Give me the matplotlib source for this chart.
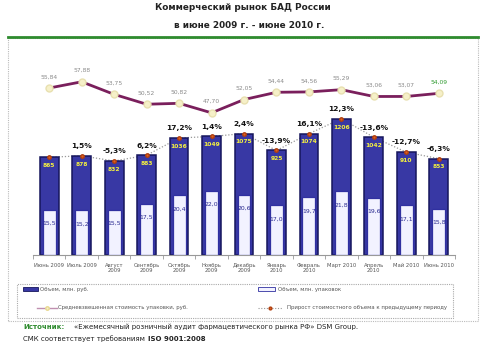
import numpy as np
import matplotlib
matplotlib.use("Agg")
import matplotlib.pyplot as plt
from matplotlib.patches import Rectangle
from matplotlib.lines import Line2D

# data
months = ["Июнь 2009", "Июль 2009", "Август\n2009", "Сентябрь\n2009", "Октябрь\n2009",
          "Ноябрь\n2009", "Декабрь\n2009", "Январь\n2010", "Февраль\n2010", "Март 2010",
          "Апрель\n2010", "Май 2010", "Июнь 2010"]
revenue = [865, 878, 832, 883, 1036, 1049, 1075, 925, 1074, 1206, 1042, 910, 853]
packages = [15.5, 15.2, 15.5, 17.5, 20.4, 22.0, 20.6, 17.0, 19.7, 21.8, 19.6, 17.1, 15.8]
price = [55.84, 57.88, 53.75, 50.52, 50.82, 47.70, 52.05, 54.44, 54.56, 55.29, 53.06, 53.07, 54.09]
growth = [None, 1.5, -5.3, 6.2, 17.2, 1.4, 2.4, -13.9, 16.1, 12.3, -13.6, -12.7, -6.3]

W, H = 490, 350
fig = plt.figure(figsize=(W / 100, H / 100), dpi=100)


def fx(px):
    return px / W


def fy(py):
    return 1 - py / H


# titles
fig.text(fx(243), fy(8), "Коммерческий рынок БАД России", ha="center", va="center",
         fontsize=6.4, fontweight="bold", color="#222222")
fig.text(fx(249), fy(25), "в июне 2009 г. - июне 2010 г.", ha="center", va="center",
         fontsize=6.4, fontweight="bold", color="#222222")

# green rule and dotted frame
fig.add_artist(Line2D([fx(8), fx(478)], [fy(37), fy(37)], color="#2e8b2e", lw=2))
fig.add_artist(Rectangle((fx(8), fy(321)), fx(470), (321 - 38) / H, fill=False,
                         ec="#bbbbbb", lw=0.8, ls=(0, (1, 1))))

x = np.arange(len(months))
ax = fig.add_axes([fx(33), fy(255), fx(422), 215 / H])
ax.set_xlim(-0.5, 12.5)
ax.set_ylim(0, 1903)

# revenue bars
ax.bar(x, revenue, width=0.58, color="#3838a4", edgecolor="#16165c", lw=1.1, zorder=2)
# packages bars (own scale)
axp = ax.twinx()
axp.set_ylim(0, 73.4)
axp.set_xlim(-0.5, 12.5)
axp.bar(x, packages, width=0.4, color="#f2f2ff", edgecolor="#3030a0", lw=0.9, zorder=3)
for xi, p in zip(x, packages):
    axp.annotate(f"{p:.1f}".replace(".", ","), (xi, p), xytext=(0, -10),
                 textcoords="offset points", ha="center", va="center",
                 fontsize=4.4, color="#2a2a90")
axp.axis("off")

for xi, r in zip(x, revenue):
    ax.annotate(str(r), (xi, r), xytext=(0, -6), textcoords="offset points",
                ha="center", va="center", fontsize=4.3, fontweight="bold", color="#f4f040",
                zorder=5)

# growth: dotted line through bar tops
ax.plot(x, revenue, ls=(0, (1, 1.5)), color="#999999", lw=0.9, zorder=1)
ax.plot(x, revenue, ls="none", marker="o", ms=2.5, mfc="#e06020", mec="#b04010", zorder=4)
for xi, r, g in zip(x, revenue, growth):
    if g is None:
        continue
    ax.annotate(f"{g:.1f}%".replace(".", ","), (xi, r), xytext=(0, 7),
                textcoords="offset points", ha="center", va="center",
                fontsize=5.4, fontweight="bold", color="#111111", zorder=5)

# average price line
axl = ax.twinx()
axl.set_ylim(1.09, 71.58)
axl.set_xlim(-0.5, 12.5)
axl.plot(x, price, color="#7a1f5c", lw=2.0, zorder=3)
axl.plot(x, price, ls="none", marker="o", ms=5, mfc="#f6f0c8", mec="#e8e0b0", zorder=4)
for i, (xi, p) in enumerate(zip(x, price)):
    col = "#2e9a2e" if i == len(price) - 1 else "#8a8a8a"
    axl.annotate(f"{p:.2f}".replace(".", ","), (xi, p), xytext=(0, 8),
                 textcoords="offset points", ha="center", va="center",
                 fontsize=4.3, color=col)
axl.axis("off")

# x axis
for s in ["top", "right", "left"]:
    ax.spines[s].set_visible(False)
ax.spines["bottom"].set_color("#999999")
ax.spines["bottom"].set_linewidth(0.8)
ax.set_yticks([])
ax.set_xticks(x)
ax.set_xticklabels(months, fontsize=3.8, color="#555555", linespacing=1.0)
ax.tick_params(axis="x", length=0, pad=6)
ax.set_xticks(np.arange(-0.5, 13, 1), minor=True)
ax.tick_params(axis="x", which="minor", length=3, color="#999999", width=0.6)

# legend box
fs_leg = 3.9
fig.add_artist(Rectangle((fx(17), fy(318)), fx(436), 34 / H, fill=False,
                         ec="#aaaaaa", lw=0.8, ls=(0, (1, 1))))
fig.add_artist(Rectangle((fx(23), fy(290.5)), fx(15), 4 / H, fc="#3838a4", ec="#16165c", lw=0.6))
fig.text(fx(40), fy(289), "Объем, млн. руб.", fontsize=fs_leg, color="#555555", va="center")
fig.add_artist(Rectangle((fx(258), fy(290.5)), fx(17), 4 / H, fc="#f2f2ff", ec="#3030a0", lw=0.6))
fig.text(fx(278), fy(289), "Объем, млн. упаковок", fontsize=fs_leg, color="#555555", va="center")
fig.add_artist(Line2D([fx(37), fx(57)], [fy(308), fy(308)], color="#c090b0", lw=1.0))
fig.add_artist(Line2D([fx(47)], [fy(308)], ls="none", marker="o", ms=2.5,
                      mfc="#f6f0c8", mec="#e8d890"))
fig.text(fx(58), fy(308), "Средневзвешенная стоимость упаковки, руб.", fontsize=fs_leg,
         color="#555555", va="center")
fig.add_artist(Line2D([fx(258), fx(283)], [fy(308), fy(308)], color="#999999", lw=0.8,
                      ls=(0, (1, 1.5))))
fig.add_artist(Line2D([fx(270)], [fy(308)], ls="none", marker="o", ms=2,
                      mfc="#e06020", mec="#b04010"))
fig.text(fx(287), fy(308), "Прирост стоимостного объема к предыдущему периоду", fontsize=fs_leg,
         color="#555555", va="center")

# source
fs_src = 5.0
fig.text(fx(23), fy(327), "Источник:", fontsize=fs_src, fontweight="bold", color="#2e8b2e",
         va="center")
fig.text(fx(74), fy(327), "«Ежемесячный розничный аудит фармацевтического рынка РФ» DSM Group.",
         fontsize=fs_src, color="#222222", va="center")
t2 = fig.text(fx(23), fy(339), "СМК соответствует требованиям", fontsize=fs_src,
              color="#222222", va="center")
r = fig.canvas.get_renderer()
bb = t2.get_window_extent(renderer=r)
fig.text((bb.x1 + 3) / W, fy(339), "ISO 9001:2008", fontsize=fs_src, fontweight="bold",
         color="#222222", va="center")

fig.savefig("out.png", dpi=100, facecolor="white")
